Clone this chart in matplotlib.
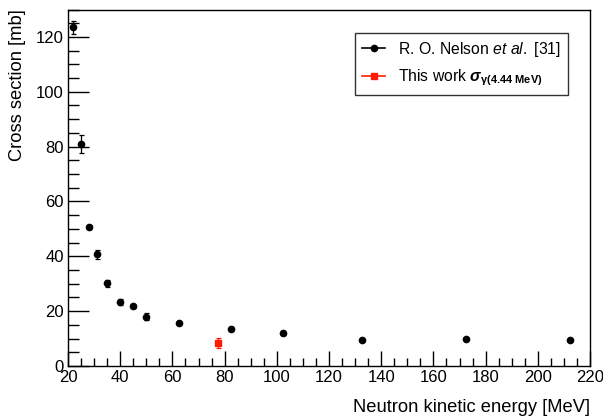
import numpy as np
import matplotlib.pyplot as plt
from matplotlib.ticker import MultipleLocator
from matplotlib.lines import Line2D

plt.rcParams['font.family'] = ['Liberation Sans', 'DejaVu Sans']
plt.rcParams['mathtext.fontset'] = 'custom'
plt.rcParams['mathtext.rm'] = 'Liberation Sans'
plt.rcParams['mathtext.it'] = 'Liberation Sans:italic'
plt.rcParams['mathtext.bf'] = 'Liberation Sans:bold'
plt.rcParams['mathtext.bfit'] = 'Liberation Sans:italic:bold'

# ── data ─────────────────────────────────────────────────────────────────────
nelson_e   = [22, 25, 28, 31, 35, 40, 45, 50, 62.5, 82.5, 102.5, 132.5, 172.5, 212.5]
nelson_xs  = [123.5, 80.8, 50.7, 40.7, 30.1, 23.4, 21.7, 18.0, 15.7, 13.6, 11.9, 9.6, 9.8, 9.4]
nelson_err = [2.3, 3.3, 0.6, 1.5, 1.4, 1.1, 0.6, 1.4, 0.5, 0.5, 0.5, 0.4, 0.4, 0.4]

this_e   = [77.5]
this_xs  = [8.4]
this_err = [1.7]

RED = '#ff1a00'

# ── figure ───────────────────────────────────────────────────────────────────
fig = plt.figure(figsize=(6.03, 4.2), dpi=100)
ax = fig.add_axes([68 / 603, 1 - 366 / 420, (590 - 68) / 603, (366 - 9.5) / 420])

ax.errorbar(nelson_e, nelson_xs, yerr=nelson_err, fmt='o', color='black',
            ms=4.5, elinewidth=0.9, capsize=1.8, capthick=0.9)
ax.errorbar(this_e, this_xs, yerr=this_err, fmt='s', color=RED,
            ms=4.3, elinewidth=0.9, capsize=1.8, capthick=0.9)

ax.set_xlim(20, 220)
ax.set_ylim(0, 130)
ax.xaxis.set_major_locator(MultipleLocator(20))
ax.xaxis.set_minor_locator(MultipleLocator(5))
ax.yaxis.set_major_locator(MultipleLocator(20))
ax.yaxis.set_minor_locator(MultipleLocator(5))
ax.tick_params(which='both', direction='in', labelsize=12, top=False, right=False, width=1)
ax.tick_params(axis='x', which='major', length=11, pad=3)
ax.tick_params(axis='x', which='minor', length=5.5)
ax.tick_params(axis='y', which='major', length=15, pad=3)
ax.tick_params(axis='y', which='minor', length=8)
for s in ax.spines.values():
    s.set_linewidth(1.0)

ax.set_xlabel('Neutron kinetic energy [MeV]', fontsize=13.2, loc='right', labelpad=10)
ax.set_ylabel('Cross section [mb]', fontsize=13.2, loc='top', labelpad=7)

# legend: ROOT style, line through marker
handles = [
    Line2D([], [], color='black', marker='o', ms=4.5, lw=1.2),
    Line2D([], [], color=RED, marker='s', ms=4.8, lw=1.2),
]
labels = [
    r'R. O. Nelson $\mathit{et\ al.}$ [31]',
    r'This work $\mathbfit{\sigma}_{\mathbf{\gamma(4.44\ MeV)}}$',
]
leg = ax.legend(handles, labels, loc='upper right', bbox_to_anchor=(0.9575, 0.935),
                fontsize=11.3, frameon=True, fancybox=False, edgecolor='black',
                handlelength=1.5, handletextpad=0.8, borderpad=0.45, labelspacing=0.55,
                borderaxespad=0)
leg.get_frame().set_linewidth(1.0)

fig.savefig('out.png', dpi=100)
